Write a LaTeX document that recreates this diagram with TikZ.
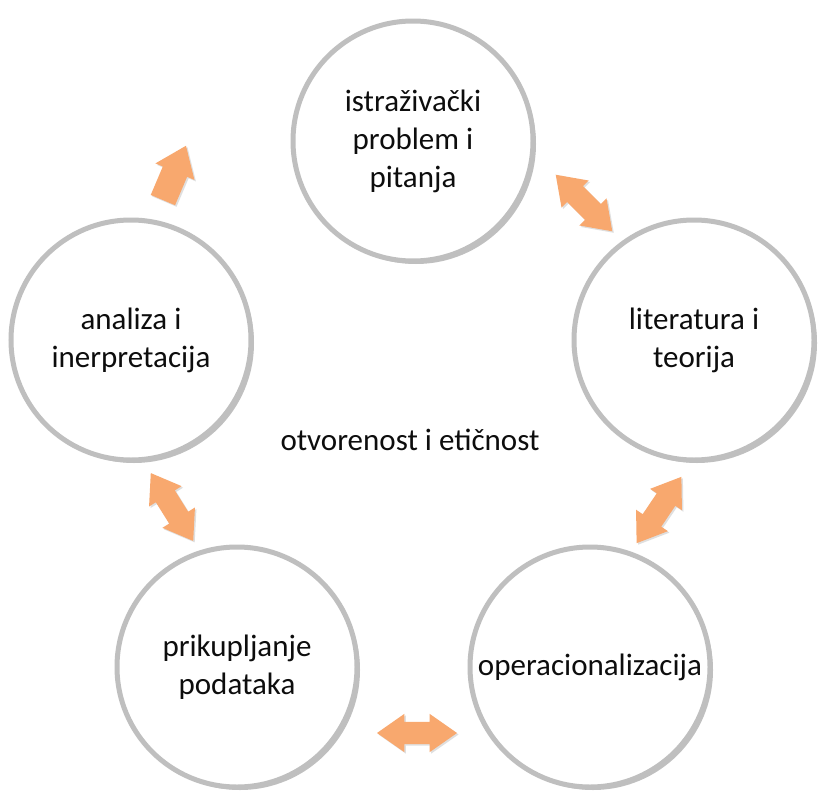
\documentclass[tikz,border=0pt]{standalone}
\usepackage{fontspec}
\setmainfont{Carlito}
\usepackage{tikz}
\usetikzlibrary{shapes.arrows,shadows}
\definecolor{ring}{HTML}{BFBFBF}
\definecolor{flowarrow}{HTML}{F8A86E}
\definecolor{inktext}{HTML}{0D0D0D}
\tikzset{
  stage/.style={circle,draw=ring,fill=white,line width=5pt,minimum size=240pt,
    inner sep=0pt,align=center,font=\fontsize{31}{38}\selectfont,text=inktext,
    drop shadow={shadow xshift=3pt,shadow yshift=-3pt,opacity=0.35,fill=black!70}},
  cyclearrow/.style={double arrow,fill=flowarrow,draw=none,minimum height=80pt,
    minimum width=38pt,double arrow head extend=8pt,double arrow tip angle=70,
    inner sep=11pt,drop shadow={shadow xshift=1.5pt,shadow yshift=-1.5pt,opacity=0.25}},
  onearrow/.style={single arrow,fill=flowarrow,draw=none,minimum height=59pt,
    minimum width=42pt,single arrow head extend=8pt,single arrow tip angle=74,
    inner sep=13pt,drop shadow={shadow xshift=1.5pt,shadow yshift=-1.5pt,opacity=0.25}},
  core/.style={font=\fontsize{31}{38}\selectfont,text=inktext}
}
\begin{document}
\begin{tikzpicture}[x=1pt,y=-1pt]
  \useasboundingbox[fill=white] (0,0) rectangle (822,803);
  % stages of the cycle
  \node[stage] (problem) at (413,141) {istraživački\\problem i\\pitanja};
  \node[stage] (teorija) at (694,340) {literatura i\\teorija};
  \node[stage] (operac) at (590,667) {operacionalizacija};
  \node[stage] (podaci) at (237,667) {prikupljanje\\podataka};
  \node[stage] (analiza) at (131,340) {analiza i\\inerpretacija};
  \node[core] (etika) at (410,440) {otvorenost i etičnost};
  % arrows between stages
  \node[cyclearrow,rotate=-45] (a12) at (584,203) {};
  \node[cyclearrow,rotate=56] (a23) at (659,510) {};
  \node[cyclearrow] (a34) at (417,733) {};
  \node[cyclearrow,rotate=-58] (a45) at (172,507) {};
  \node[onearrow,rotate=67] (a51) at (171,181) {};
\end{tikzpicture}
\end{document}
